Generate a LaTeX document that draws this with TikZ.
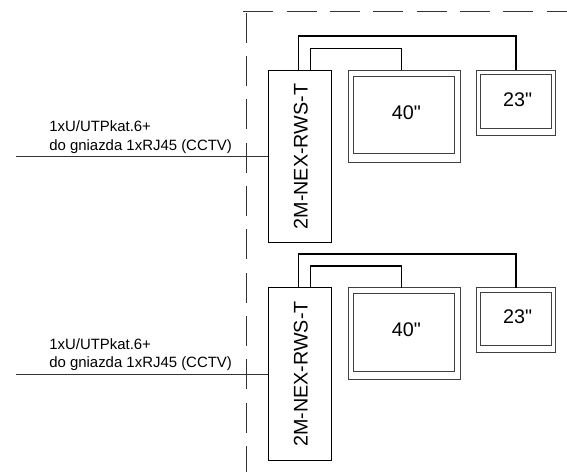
\documentclass[tikz,border=0pt]{standalone}
\usepackage{fontspec}
\setmainfont{Liberation Sans}[Ligatures=TeXOff]
\usetikzlibrary{positioning}
\usetikzlibrary{calc}

\begin{document}
\begin{tikzpicture}[x=0.75pt,y=-0.75pt,font=\fontsize{14.8}{17}\selectfont]
	\tikzstyle{every node}=[inner sep=0pt,outer sep=0pt]
	\tikzstyle{switchbox}=[draw=black,line width=0.75pt,minimum width=46.9pt,minimum height=129.4pt]
	\tikzstyle{big frame}=[draw=black!75,line width=0.75pt,minimum width=84.2pt,minimum height=69pt]
	\tikzstyle{big screen}=[draw=black!75,line width=0.75pt,minimum width=75.75pt,minimum height=58pt]
	\tikzstyle{small frame}=[draw=black!75,line width=0.75pt,minimum width=59pt,minimum height=48.5pt]
	\tikzstyle{small screen}=[draw=black!75,line width=0.75pt,minimum width=53.25pt,minimum height=40.2pt]
	\tikzstyle{wire}=[draw=black,line width=1.1pt]
	\tikzstyle{cable}=[draw=black!80,line width=0.6pt]
	\tikzstyle{boundary}=[draw=black!80,line width=0.6pt,dash pattern=on 22.5pt off 10pt]
	\tikzstyle{cable text}=[font=\fontsize{11.2}{14}\selectfont,align=left]
	
	\useasboundingbox (0,0) rectangle (567,472);
	
	\coordinate (B_0) at (246.5,12.8);
	\coordinate (B_1) at (246.5,472);
	\coordinate (B_2) at (243.3,11);
	\coordinate (B_3) at (567,11);
	\path[boundary] (B_0) -- (B_1);
	\path[boundary] (B_2) -- (B_3);
	
	% upper set
	\node[switchbox]     (SW_1) at (299.75,156.65) {};
	\node[rotate=90]     (SW_1t) at ($(SW_1.center)+(1,0)$) {2M-NEX-RWS-T};
	\node[big frame]     (M40_1) [below right=0pt and 12.75pt of SW_1.north east] {};
	\node[big screen,label={[xshift=1.6pt,yshift=1.7pt]center:40"}]   (S40_1) at ($(M40_1.center)+(0,-1.3)$) {};
	\node[small frame]   (M23_1) [below right=0pt and 12.3pt of M40_1.north east] {};
	\node[small screen,label={[xshift=1.1pt,yshift=1.6pt]center:23"}] (S23_1) at ($(M23_1.center)+(0.2,-1.1)$) {};
	\coordinate (C_1) at (15.7,156.65);
	\node[cable text,above right=2.4pt and 25.2pt of C_1] (L_1) {1xU/UTPkat.6+\\do gniazda 1xRJ45 (CCTV)};
	
	% lower set
	\node[switchbox]     (SW_2) at (299.75,374) {};
	\node[rotate=90]     (SW_2t) at ($(SW_2.center)+(1,0)$) {2M-NEX-RWS-T};
	\node[big frame]     (M40_2) [below right=0pt and 12.75pt of SW_2.north east] {};
	\node[big screen,label={[xshift=1.6pt,yshift=1.7pt]center:40"}]   (S40_2) at ($(M40_2.center)+(0,-1.3)$) {};
	\node[small frame]   (M23_2) [below right=0pt and 12.3pt of M40_2.north east] {};
	\node[small screen,label={[xshift=1.1pt,yshift=1.6pt]center:23"}] (S23_2) at ($(M23_2.center)+(0.2,-1.1)$) {};
	\coordinate (C_2) at (15.7,374);
	\node[cable text,above right=2.4pt and 25.2pt of C_2] (L_2) {1xU/UTPkat.6+\\do gniazda 1xRJ45 (CCTV)};
	
	\path[cable] (C_1) -- (SW_1.west);
	\path[cable] (C_2) -- (SW_2.west);
	
	\path[wire] ($(SW_1.north west)+(29.8,0)$) -- ++(0,-34.3) -| (M23_1.north);
	\path[wire] ($(SW_1.north west)+(41.8,0)$) -- ++(0,-22) -| ($(M40_1.north)+(-2.5,0)$);
	\path[wire] ($(SW_2.north west)+(29.8,0)$) -- ++(0,-33.7) -| (M23_2.north);
	\path[wire] ($(SW_2.north west)+(41.8,0)$) -- ++(0,-21.7) -| ($(M40_2.north)+(-2.5,0)$);
\end{tikzpicture}
\end{document}
